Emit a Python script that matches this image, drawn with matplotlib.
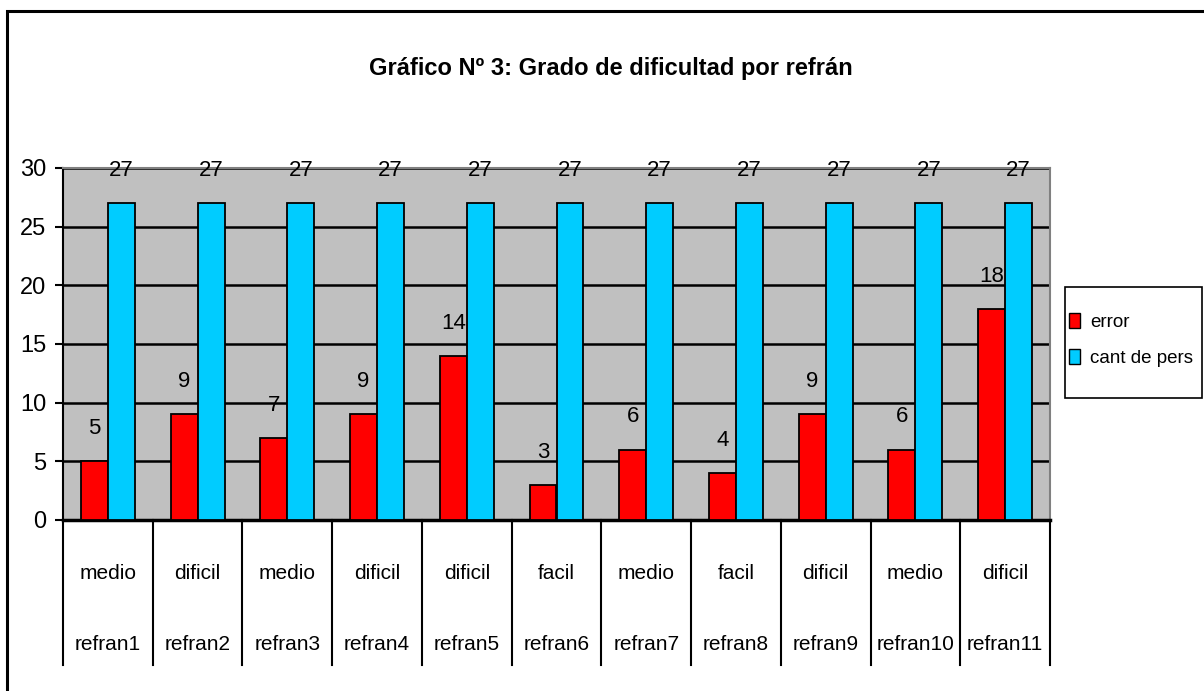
import matplotlib
matplotlib.use("Agg")
import matplotlib.pyplot as plt
from matplotlib.patches import Rectangle, Patch

plt.rcParams['font.family'] = ['Liberation Sans', 'DejaVu Sans']

# datos
refranes = ['refran1', 'refran2', 'refran3', 'refran4', 'refran5', 'refran6',
            'refran7', 'refran8', 'refran9', 'refran10', 'refran11']
grado = ['medio', 'dificil', 'medio', 'dificil', 'dificil', 'facil',
         'medio', 'facil', 'dificil', 'medio', 'dificil']
error = [5, 9, 7, 9, 14, 3, 6, 4, 9, 6, 18]
cant_pers = [27, 27, 27, 27, 27, 27, 27, 27, 27, 27, 27]

W, H = 1204, 691
fig = plt.figure(figsize=(W / 100, H / 100), dpi=100)

# marco exterior del grafico
fig.patches.append(Rectangle((7 / W, -0.1), 1.2, 1 - 11 / H + 0.1, transform=fig.transFigure,
                             fill=False, edgecolor='black', linewidth=2.2))

ax = fig.add_axes([63 / W, 171 / H, (1050 - 63) / W, 352 / H])
ax.set_facecolor('#c0c0c0')

x = range(len(refranes))
b1 = ax.bar([i - 0.15 for i in x], error, width=0.3, color='#ff0000', edgecolor='black',
            linewidth=1.3, zorder=3)
b2 = ax.bar([i + 0.15 for i in x], cant_pers, width=0.3, color='#00ccff', edgecolor='black',
            linewidth=1.3, zorder=3)

# etiquetas de valor
for bars in (b1, b2):
    for r in bars:
        ax.annotate(str(int(r.get_height())), (r.get_x() + r.get_width() / 2, r.get_height()),
                    xytext=(0, 23.5), textcoords='offset points', ha='center', va='center',
                    fontsize=16, annotation_clip=False)

ax.set_xlim(-0.5, len(refranes) - 0.5)
ax.set_ylim(0, 30)
ax.set_yticks(range(0, 31, 5))
ax.yaxis.grid(True, color='black', linewidth=1.8, zorder=1)
ax.set_axisbelow(True)
ax.tick_params(axis='y', labelsize=17, length=6, width=1.5, pad=6)
ax.set_xticks([])

for s in ['top', 'right']:
    ax.spines[s].set_color('#808080')
    ax.spines[s].set_linewidth(1.5)
ax.spines['left'].set_linewidth(1.5)
ax.spines['bottom'].set_linewidth(2.5)

# eje de categorias en dos niveles
tr = ax.get_xaxis_transform()
for i in range(len(refranes) + 1):
    ax.plot([i - 0.5, i - 0.5], [0, -0.412], transform=tr, color='black', linewidth=1.5,
            clip_on=False)
for i in x:
    ax.text(i, -0.1506, grado[i], transform=tr, ha='center', va='center', fontsize=15)
    ax.text(i, -0.355, refranes[i], transform=tr, ha='center', va='center', fontsize=15)

fig.text(611 / W, 1 - 68 / H, 'Gráfico Nº 3: Grado de dificultad por refrán', ha='center',
         va='center', fontsize=17, fontweight='bold')

# leyenda (marco dibujado aparte)
fig.patches.append(Rectangle((1065 / W, 1 - 398 / H), 137 / W, 111 / H,
                             transform=fig.transFigure, fill=False, edgecolor='black',
                             linewidth=1.2))
handles = [Patch(facecolor='#ff0000', edgecolor='black'),
           Patch(facecolor='#00ccff', edgecolor='black')]
leg = fig.legend(handles, ['error', 'cant de pers'], loc='center left',
                 bbox_to_anchor=(1063 / W, 1 - 340 / H), borderaxespad=0, fontsize=13.5,
                 frameon=False, handlelength=0.6, handleheight=0.9,
                 handletextpad=0.55, labelspacing=0.95, borderpad=0.3)

fig.savefig('out.png', dpi=100)
